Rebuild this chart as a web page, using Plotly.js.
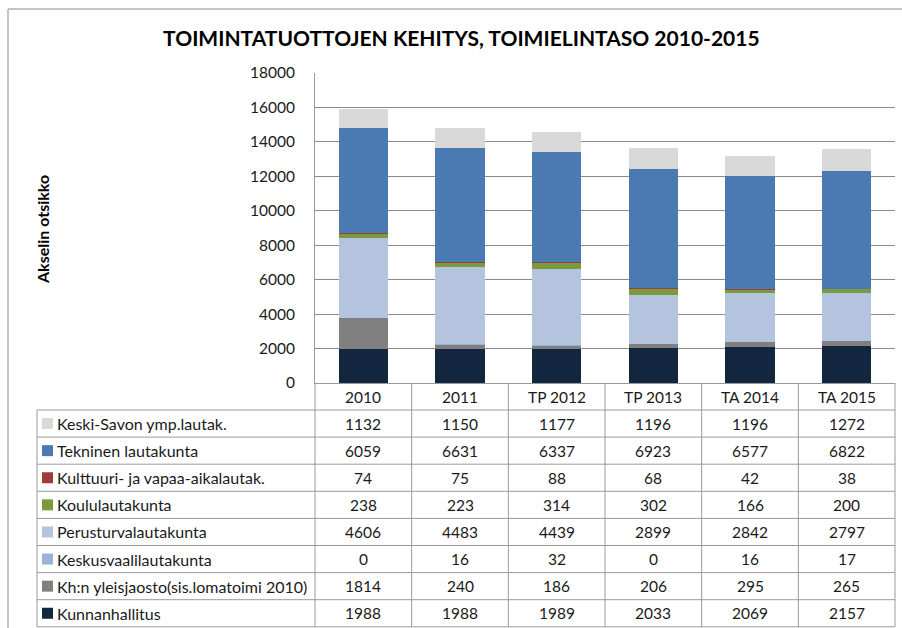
<!DOCTYPE html>
<html>
<head>
<meta charset="utf-8">
<script src="https://cdn.plot.ly/plotly-3.0.1.min.js"></script>
<style>html,body{margin:0;padding:0;background:#fff;}#chart{width:902px;height:628px;}</style>
</head>
<body>
<div id="chart"></div>
<script>
// ---- data ----
var categories = ['2010', '2011', 'TP 2012', 'TP 2013', 'TA 2014', 'TA 2015'];
var seriesNames = [
  'Kunnanhallitus',
  'Kh:n yleisjaosto(sis.lomatoimi 2010)',
  'Keskusvaalilautakunta',
  'Perusturvalautakunta',
  'Koululautakunta',
  'Kulttuuri- ja vapaa-aikalautak.',
  'Tekninen lautakunta',
  'Keski-Savon ymp.lautak.'
];
var kunnanhallitus = [1988, 1988, 1989, 2033, 2069, 2157];
var khYleisjaosto  = [1814, 240, 186, 206, 295, 265];
var keskusvaali    = [0, 16, 32, 0, 16, 17];
var perusturva     = [4606, 4483, 4439, 2899, 2842, 2797];
var koulu          = [238, 223, 314, 302, 166, 200];
var kulttuuri      = [74, 75, 88, 68, 42, 38];
var tekninen       = [6059, 6631, 6337, 6923, 6577, 6822];
var keskiSavon     = [1132, 1150, 1177, 1196, 1196, 1272];
var seriesValues = [kunnanhallitus, khYleisjaosto, keskusvaali, perusturva, koulu, kulttuuri, tekninen, keskiSavon];
var seriesColors = ['#13263F', '#808080', '#9BB2D5', '#B5C4DE', '#7A9A3E', '#A03B3A', '#4A7AB1', '#D9D9D9'];
var yTickVals = [0, 2000, 4000, 6000, 8000, 10000, 12000, 14000, 16000, 18000];

// ---- layout geometry (pixels) ----
var W = 902, H = 628;
var L = 315, R = 7, T = 73, B = 245;
var pw = W - L - R, ph = H - T - B;
function px(X) { return (X - L) / pw; }
function py(Y) { return (T + ph - Y) / ph; }
var FONT = 'Lato, "Open Sans", sans-serif';
var TXT = '#1a1a1a';
var LINE = '#9a9a9a';
var TSIZE = 15.5;

var traces = seriesNames.map(function (name, i) {
  return {
    type: 'bar', name: name, x: categories, y: seriesValues[i],
    marker: { color: seriesColors[i], line: { width: 0 } },
    hoverinfo: 'x+y+name'
  };
});

var shapes = [], annotations = [];
var nCat = categories.length;
var headerTop = T + ph;          // 383
var headerH = 27;
var rowH = 27.1;
var tableLeft = 37;
var rowsTop = headerTop + headerH;
var nRows = seriesNames.length;
var tableBottom = rowsTop + rowH * nRows;

// outer border
shapes.push({ type: 'rect', xref: 'paper', yref: 'paper', x0: px(8), x1: px(905), y0: py(9), y1: py(640),
  line: { color: '#8c8c8c', width: 1 }, layer: 'below' });

// horizontal table lines
for (var k = 0; k <= nRows; k++) {
  var Y = rowsTop + rowH * k;
  shapes.push({ type: 'line', xref: 'paper', yref: 'paper', x0: px(tableLeft), x1: 1, y0: py(Y), y1: py(Y),
    line: { color: LINE, width: 1 } });
}
// vertical table lines
shapes.push({ type: 'line', xref: 'paper', yref: 'paper', x0: px(tableLeft), x1: px(tableLeft), y0: py(rowsTop), y1: py(tableBottom),
  line: { color: LINE, width: 1 } });
for (var j = 0; j <= nCat; j++) {
  shapes.push({ type: 'line', xref: 'paper', yref: 'paper', x0: j / nCat, x1: j / nCat, y0: 0, y1: py(tableBottom),
    line: { color: LINE, width: 1 } });
}

// header labels
categories.forEach(function (c, i) {
  annotations.push({ xref: 'paper', yref: 'paper', x: (i + 0.5) / nCat, y: py(headerTop + headerH / 2),
    text: c, showarrow: false, xanchor: 'center', yanchor: 'middle', font: { family: FONT, size: TSIZE, color: TXT } });
});

// rows (top row = last series)
for (var r = 0; r < nRows; r++) {
  var s = nRows - 1 - r;
  var yc = rowsTop + rowH * r + rowH / 2;
  shapes.push({ type: 'rect', xref: 'paper', yref: 'paper', x0: px(42), x1: px(53), y0: py(yc - 5.5), y1: py(yc + 5.5),
    fillcolor: seriesColors[s], line: { width: 0 } });
  annotations.push({ xref: 'paper', yref: 'paper', x: px(55), y: py(yc), text: seriesNames[s], showarrow: false,
    xanchor: 'left', yanchor: 'middle', font: { family: FONT, size: 16, color: TXT } });
  seriesValues[s].forEach(function (v, i) {
    annotations.push({ xref: 'paper', yref: 'paper', x: (i + 0.5) / nCat, y: py(yc), text: String(v), showarrow: false,
      xanchor: 'center', yanchor: 'middle', font: { family: FONT, size: TSIZE, color: TXT } });
  });
}

// y axis title
annotations.push({ xref: 'paper', yref: 'paper', x: px(42), y: py(230), text: '<b>Akselin otsikko</b>', textangle: -90,
  showarrow: false, xanchor: 'center', yanchor: 'middle', font: { family: FONT, size: 16, color: '#000' } });

var layout = {
  width: W, height: H,
  margin: { l: L, r: R, t: T, b: B, pad: 0 },
  paper_bgcolor: '#fff', plot_bgcolor: '#fff',
  barmode: 'stack', bargap: 0.49,
  showlegend: false,
  title: { text: '<b>TOIMINTATUOTTOJEN KEHITYS, TOIMIELINTASO 2010-2015</b>', x: 0.5115, xanchor: 'center',
    y: 1 - 39 / H, yanchor: 'middle', font: { family: FONT, size: 21, color: '#000' } },
  xaxis: { type: 'category', showticklabels: false, ticks: '', showgrid: false, zeroline: false,
    showline: true, linecolor: LINE, linewidth: 1, range: [-0.5, nCat - 0.5], fixedrange: true },
  yaxis: { range: [0, 18000], tickvals: yTickVals, tickformat: 'd', ticks: '', showgrid: true, gridcolor: '#8a8a8a', gridwidth: 1,
    zeroline: false, showline: true, linecolor: LINE, linewidth: 1, ticklabelstandoff: 16,
    tickfont: { family: FONT, size: TSIZE, color: TXT }, fixedrange: true },
  shapes: shapes,
  annotations: annotations
};

Plotly.newPlot('chart', traces, layout, { displayModeBar: false, staticPlot: true });
</script>
</body>
</html>
